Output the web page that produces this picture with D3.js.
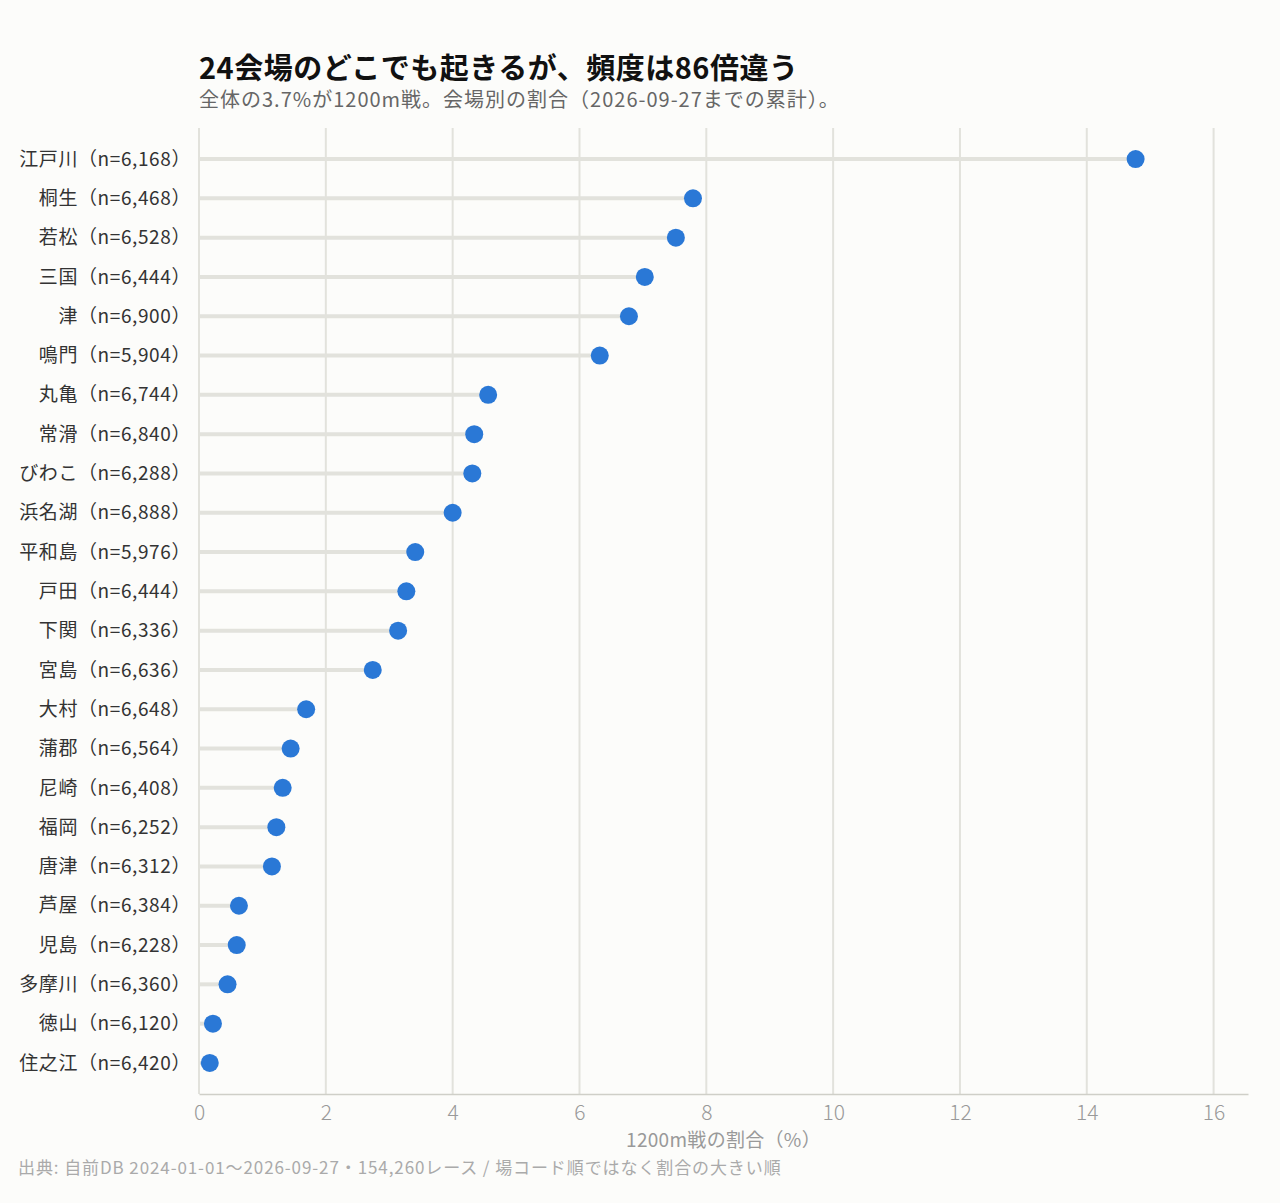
<!DOCTYPE html>
<html>
<head>
<meta charset="utf-8">
<script src="https://cdn.jsdelivr.net/npm/d3@7"></script>
<style>
  body { margin: 0; background: #fcfcfa; font-family: "Noto Sans CJK JP", "Noto Sans", sans-serif; }
  svg { display: block; }
</style>
</head>
<body>
<script>
// venues, sorted by share of 1200m races
var venues = ["江戸川", "桐生", "若松", "三国", "津", "鳴門", "丸亀", "常滑", "びわこ", "浜名湖",
  "平和島", "戸田", "下関", "宮島", "大村", "蒲郡", "尼崎", "福岡", "唐津", "芦屋",
  "児島", "多摩川", "徳山", "住之江"];
var counts = [6168, 6468, 6528, 6444, 6900, 5904, 6744, 6840, 6288, 6888,
  5976, 6444, 6336, 6636, 6648, 6564, 6408, 6252, 6312, 6384,
  6228, 6360, 6120, 6420];
// share of 1200m races (%)
var shares = [14.77, 7.79, 7.52, 7.03, 6.78, 6.32, 4.56, 4.34, 4.31, 4.00,
  3.41, 3.27, 3.14, 2.74, 1.69, 1.445, 1.32, 1.22, 1.15, 0.63,
  0.595, 0.45, 0.22, 0.17];
var xTicks = [0, 2, 4, 6, 8, 10, 12, 14, 16];

var title = "24会場のどこでも起きるが、頻度は86倍違う";
var subtitle = "全体の3.7%が1200m戦。会場別の割合（2026-09-27までの累計）。";
var xLabel = "1200m戦の割合（%）";
var source = "出典: 自前DB 2024-01-01〜2026-09-27・154,260レース / 場コード順ではなく割合の大きい順";

var width = 1280, height = 1203;
var margin = {top: 128, right: 32, bottom: 109, left: 199};

var data = venues.map(function(v, i){
  return {label: v + "（n=" + d3.format(",")(counts[i]) + "）", value: shares[i]};
});

var svg = d3.select("body").append("svg")
  .attr("width", width)
  .attr("height", height);

svg.append("rect").attr("width", width).attr("height", height).attr("fill", "#fcfcfa");

var x = d3.scaleLinear()
  .domain([0, d3.max(shares) * 1.12])
  .range([margin.left, width - margin.right]);

var y = d3.scalePoint()
  .domain(data.map(function(d){ return d.label; }))
  .range([margin.top, height - margin.bottom])
  .padding(0.79);

// vertical grid
svg.append("g").selectAll("line")
  .data(xTicks)
  .enter().append("line")
  .attr("x1", function(d){ return x(d); })
  .attr("x2", function(d){ return x(d); })
  .attr("y1", margin.top)
  .attr("y2", height - margin.bottom)
  .attr("stroke", "#e2e2dc")
  .attr("stroke-width", 2);

// x axis
var xAxis = svg.append("g")
  .attr("transform", "translate(0," + (height - margin.bottom) + ")")
  .call(d3.axisBottom(x).tickValues(xTicks).tickSize(0).tickPadding(11));
xAxis.select(".domain").attr("stroke", "#cfcfc8").attr("stroke-width", 1.5);
xAxis.selectAll("text")
  .attr("fill", "#999")
  .style("font-size", "21px")
  .style("font-weight", 300)
  .style("font-family", "'Noto Sans CJK JP', sans-serif");

// stems
svg.append("g").selectAll("line")
  .data(data)
  .enter().append("line")
  .attr("x1", x(0))
  .attr("x2", function(d){ return x(d.value); })
  .attr("y1", function(d){ return y(d.label); })
  .attr("y2", function(d){ return y(d.label); })
  .attr("stroke", "#e2e2dc")
  .attr("stroke-width", 4);

// dots
svg.append("g").selectAll("circle")
  .data(data)
  .enter().append("circle")
  .attr("cx", function(d){ return x(d.value); })
  .attr("cy", function(d){ return y(d.label); })
  .attr("r", 9)
  .attr("fill", "#2a78d6");

// venue labels
svg.append("g").selectAll("text")
  .data(data)
  .enter().append("text")
  .attr("x", 191)
  .attr("y", function(d){ return y(d.label); })
  .attr("dy", "0.35em")
  .attr("text-anchor", "end")
  .attr("fill", "#333")
  .style("font-size", "19px")
  .style("letter-spacing", "0.6px")
  .text(function(d){ return d.label; });

// titles
svg.append("text")
  .attr("x", 199).attr("y", 79)
  .attr("fill", "#111")
  .style("font-size", "29px")
  .style("font-weight", 700)
  .style("letter-spacing", "0.5px")
  .text(title);

svg.append("text")
  .attr("x", 199).attr("y", 107)
  .attr("fill", "#666")
  .style("font-size", "20px")
  .style("letter-spacing", "1px")
  .text(subtitle);

svg.append("text")
  .attr("x", (x.range()[0] + x.range()[1]) / 2)
  .attr("y", 1147)
  .attr("text-anchor", "middle")
  .attr("fill", "#999")
  .style("font-size", "19px")
  .style("letter-spacing", "0.3px")
  .text(xLabel);

svg.append("text")
  .attr("x", 18).attr("y", 1174)
  .attr("fill", "#aaa")
  .style("font-size", "17px")
  .style("letter-spacing", "0.9px")
  .text(source);
</script>
</body>
</html>
